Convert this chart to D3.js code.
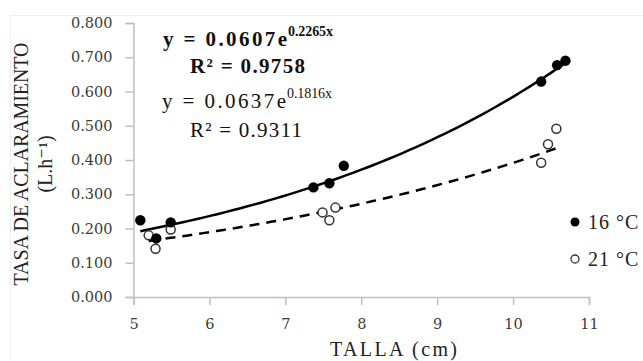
<!DOCTYPE html>
<html>
<head>
<meta charset="utf-8">
<script src="https://cdn.jsdelivr.net/npm/d3@7"></script>
<style>
  body { margin: 0; background: #fff; }
  svg { font-family: "Liberation Serif", "DejaVu Serif", serif; }
</style>
</head>
<body>
<div id="chart"></div>
<script>
var svgWidth = 643;
var svgHeight = 361;

// 16 °C (filled)
var talla16 = [5.09, 5.30, 5.49, 7.37, 7.58, 7.77, 10.37, 10.58, 10.69];
var tasa16 = [0.224, 0.171, 0.218, 0.320, 0.332, 0.383, 0.629, 0.677, 0.690];
// 21 °C (open)
var talla21 = [5.20, 5.29, 5.49, 7.49, 7.58, 7.66, 10.37, 10.46, 10.57];
var tasa21 = [0.180, 0.141, 0.197, 0.247, 0.224, 0.261, 0.392, 0.446, 0.491];

// trendline coefficients as printed on the chart
var coef16 = [0.0607, 0.2265];
var coef21 = [0.0637, 0.1816];

var xTicks = [5, 6, 7, 8, 9, 10, 11];
var yTicks = [0, 0.1, 0.2, 0.3, 0.4, 0.5, 0.6, 0.7, 0.8];

var margin = { top: 23, right: 54, bottom: 64, left: 133.5 };
var width = svgWidth - margin.left - margin.right;
var height = svgHeight - margin.top - margin.bottom;

var svg = d3.select("#chart")
  .append("svg")
  .attr("width", svgWidth)
  .attr("height", svgHeight);

// faint chart border
svg.append("rect")
  .attr("x", 10.5).attr("y", 15.5)
  .attr("width", 640).attr("height", 350)
  .attr("fill", "none")
  .attr("stroke", "#f0f0f0");

var chartGroup = svg.append("g")
  .attr("transform", `translate(${margin.left}, ${margin.top})`);

var xScale = d3.scaleLinear().domain([5, 11]).range([0, width]);
var yScale = d3.scaleLinear().domain([0, 0.8]).range([height, 0]);

var bottomAxis = d3.axisBottom(xScale)
  .tickValues(xTicks)
  .tickSize(8)
  .tickPadding(14)
  .tickFormat(d3.format("d"));
var leftAxis = d3.axisLeft(yScale)
  .tickValues(yTicks)
  .tickSize(8)
  .tickPadding(13)
  .tickFormat(d3.format(".3f"));

var xAxis = chartGroup.append("g")
  .attr("transform", `translate(0, ${height})`)
  .call(bottomAxis);
var yAxis = chartGroup.append("g").call(leftAxis);

[xAxis, yAxis].forEach(function(ax) {
  ax.select(".domain").attr("stroke", "#bfbfbf").attr("stroke-width", 1.5);
  ax.selectAll(".tick line").attr("stroke", "#bfbfbf").attr("stroke-width", 1.5);
  ax.selectAll(".tick text")
    .attr("fill", "#3a3a3a")
    .attr("font-size", "14.5px")
    .attr("font-family", "DejaVu Serif, serif");
});

// trendlines from the printed equations
function trend(coef, x0, x1) {
  var pts = [];
  for (var i = 0; i <= 60; i++) {
    var x = x0 + (x1 - x0) * i / 60;
    pts.push([x, coef[0] * Math.exp(coef[1] * x)]);
  }
  return pts;
}
var line = d3.line()
  .x(d => xScale(d[0]))
  .y(d => yScale(d[1]));

chartGroup.append("path")
  .datum(trend(coef16, d3.min(talla16), d3.max(talla16)))
  .attr("d", line)
  .attr("fill", "none")
  .attr("stroke", "#000")
  .attr("stroke-width", 2.5);

chartGroup.append("path")
  .datum(trend(coef21, d3.min(talla21), d3.max(talla21)))
  .attr("d", line)
  .attr("fill", "none")
  .attr("stroke", "#000")
  .attr("stroke-width", 2.5)
  .attr("stroke-dasharray", "10,7");

// points
chartGroup.selectAll(".p21")
  .data(talla21)
  .enter()
  .append("circle")
  .attr("class", "p21")
  .attr("cx", d => xScale(d))
  .attr("cy", (d, i) => yScale(tasa21[i]))
  .attr("r", 4.5)
  .attr("fill", "#fff")
  .attr("stroke", "#333")
  .attr("stroke-width", 1.5);

chartGroup.selectAll(".p16")
  .data(talla16)
  .enter()
  .append("circle")
  .attr("class", "p16")
  .attr("cx", d => xScale(d))
  .attr("cy", (d, i) => yScale(tasa16[i]))
  .attr("r", 5.2)
  .attr("fill", "#000");

// equations
function equation(x, y, a, b, bold) {
  var t = svg.append("text")
    .attr("x", x).attr("y", y)
    .attr("font-size", "21px")
    .attr("font-weight", bold ? "bold" : "normal")
    .attr("fill", "#111");
  t.append("tspan").attr("textLength", 124).attr("lengthAdjust", "spacing")
    .text("y = " + a + "e");
  t.append("tspan").attr("x", x + 125).attr("dy", -10).attr("font-size", "14px")
    .attr("textLength", 45).attr("lengthAdjust", "spacing")
    .text(b + "x");
}
function rsq(x, y, txt, w, bold) {
  svg.append("text")
    .attr("x", x).attr("y", y)
    .attr("font-size", "21px")
    .attr("font-weight", bold ? "bold" : "normal")
    .attr("fill", "#111")
    .attr("textLength", w).attr("lengthAdjust", "spacing")
    .text(txt);
}
equation(163, 46, "0.0607", "0.2265", true);
rsq(190, 73, "R² = 0.9758", 115, true);
equation(162, 108, "0.0637", "0.1816", false);
rsq(190, 137, "R² = 0.9311", 112, false);

// legend
var legend = svg.append("g");
legend.append("circle")
  .attr("cx", 575).attr("cy", 222).attr("r", 4.5).attr("fill", "#000");
legend.append("text")
  .attr("x", 588).attr("y", 229)
  .attr("font-size", "20px").attr("fill", "#222")
  .attr("letter-spacing", "1px")
  .text("16 °C");
legend.append("circle")
  .attr("cx", 575).attr("cy", 259).attr("r", 4)
  .attr("fill", "#fff").attr("stroke", "#333").attr("stroke-width", 1.3);
legend.append("text")
  .attr("x", 588).attr("y", 266)
  .attr("font-size", "20px").attr("fill", "#222")
  .attr("letter-spacing", "1px")
  .text("21 °C");

// axis titles
svg.append("text")
  .attr("x", 330).attr("y", 356)
  .attr("font-size", "20px")
  .attr("fill", "#222")
  .attr("textLength", 127).attr("lengthAdjust", "spacing")
  .text("TALLA (cm)");

var yTitle = svg.append("text")
  .attr("transform", "translate(28, 164) rotate(-90)")
  .attr("text-anchor", "middle")
  .attr("font-size", "20px")
  .attr("fill", "#222");
yTitle.append("tspan").attr("x", 0).attr("y", 0)
  .attr("textLength", 243).attr("lengthAdjust", "spacing")
  .text("TASA DE ACLARAMIENTO");
yTitle.append("tspan").attr("x", 0).attr("y", 24).text("(L.h⁻¹)");
</script>
</body>
</html>
